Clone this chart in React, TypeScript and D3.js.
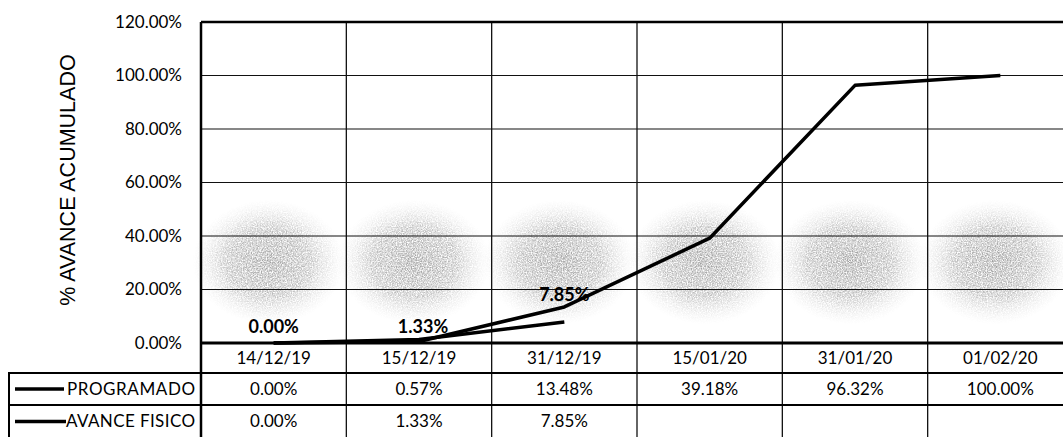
import React, { useEffect, useRef } from 'react';
import * as d3 from 'd3';

const categories = ['14/12/19', '15/12/19', '31/12/19', '15/01/20', '31/01/20', '01/02/20'];
const programado = [0, 0.0057, 0.1348, 0.3918, 0.9632, 1.0];
const avanceFisico = [0, 0.0133, 0.0785];
const programadoLabels = ['0.00%', '0.57%', '13.48%', '39.18%', '96.32%', '100.00%'];
const avanceLabels = ['0.00%', '1.33%', '7.85%', '', '', ''];
const yTicks = [0, 0.2, 0.4, 0.6, 0.8, 1.0, 1.2];

const FONT = 'Lato, "Liberation Sans", sans-serif';

const App = () => {
  const svgRef = useRef<SVGSVGElement>(null);

  useEffect(() => {
    const svg = d3.select(svgRef.current);
    svg.selectAll('*').remove();

    const left = 201, right = 1073, top = 22, bottom = 343;
    const rowH = [30, 32, 33];
    const xScale = d3.scaleBand<string>().domain(categories).range([left, right]).padding(0);
    const yScale = d3.scaleLinear().domain([0, 1.2]).range([bottom, top]);
    const cx = (i: number) => (xScale(categories[i]) as number) + xScale.bandwidth() / 2;

    svg.append('rect').attr('width', 1063).attr('height', 437).attr('fill', '#fff');

    // scanned watermark blobs behind the plot
    const defs = svg.append('defs');
    const grad = defs.append('radialGradient').attr('id', 'blob');
    grad.append('stop').attr('offset', '0%').attr('stop-color', '#8c8c8c').attr('stop-opacity', 0.85);
    grad.append('stop').attr('offset', '55%').attr('stop-color', '#a0a0a0').attr('stop-opacity', 0.7);
    grad.append('stop').attr('offset', '100%').attr('stop-color', '#cfcfcf').attr('stop-opacity', 0);
    const noise = defs.append('filter').attr('id', 'grain');
    noise.append('feTurbulence').attr('type', 'fractalNoise').attr('baseFrequency', 0.8).attr('numOctaves', 2).attr('result', 'n');
    noise.append('feColorMatrix').attr('in', 'n').attr('type', 'matrix')
      .attr('values', '0 0 0 0 0  0 0 0 0 0  0 0 0 0 0  0 0 0 -2.0 1.5').attr('result', 'a');
    noise.append('feComposite').attr('in', 'SourceGraphic').attr('in2', 'a').attr('operator', 'in');

    svg.append('g').attr('filter', 'url(#grain)')
      .selectAll('ellipse')
      .data(categories)
      .enter().append('ellipse')
      .attr('cx', (d, i) => cx(i) - 5)
      .attr('cy', 262)
      .attr('rx', 76)
      .attr('ry', 62)
      .attr('fill', 'url(#blob)');

    // gridlines
    svg.append('g').selectAll('line')
      .data(yTicks.slice(1))
      .enter().append('line')
      .attr('x1', left).attr('x2', right)
      .attr('y1', d => yScale(d)).attr('y2', d => yScale(d))
      .attr('stroke', '#111').attr('stroke-width', 1.2);

    const tableBottom = bottom + rowH[0] + rowH[1] + rowH[2];
    svg.append('g').selectAll('line')
      .data(categories.slice(1))
      .enter().append('line')
      .attr('x1', d => xScale(d) as number).attr('x2', d => xScale(d) as number)
      .attr('y1', top).attr('y2', tableBottom)
      .attr('stroke', '#111').attr('stroke-width', 1.3);

    // plot frame
    svg.append('line').attr('x1', left).attr('x2', right).attr('y1', top).attr('y2', top)
      .attr('stroke', '#000').attr('stroke-width', 2.5);
    svg.append('line').attr('x1', left).attr('x2', left).attr('y1', top).attr('y2', tableBottom)
      .attr('stroke', '#000').attr('stroke-width', 2.5);

    // y axis labels
    svg.append('g').selectAll('text')
      .data(yTicks)
      .enter().append('text')
      .attr('x', 182)
      .attr('y', d => yScale(d))
      .attr('dy', '0.35em')
      .attr('text-anchor', 'end')
      .style('font-family', FONT)
      .style('font-size', '17px')
      .text(d => d3.format('.2%')(d));

    svg.append('text')
      .attr('transform', 'rotate(-90)')
      .attr('x', -180)
      .attr('y', 75)
      .attr('text-anchor', 'middle')
      .style('font-family', 'Arial, "Liberation Sans", sans-serif')
      .style('font-size', '21.5px')
      .text('% AVANCE ACUMULADO');

    // lines
    const line = d3.line<number>().x((d, i) => cx(i)).y(d => yScale(d));
    svg.append('path').datum(programado).attr('d', line)
      .attr('fill', 'none').attr('stroke', '#000').attr('stroke-width', 3.5).attr('stroke-linejoin', 'round');
    svg.append('path').datum(avanceFisico).attr('d', line)
      .attr('fill', 'none').attr('stroke', '#000').attr('stroke-width', 3.5).attr('stroke-linejoin', 'round');

    // data labels (last one was nudged up in the original)
    const labelShift = [-10, -6, -21];
    svg.append('g').selectAll('text')
      .data(avanceFisico)
      .enter().append('text')
      .attr('x', (d, i) => cx(i) + (i === 1 ? 4 : 0))
      .attr('y', (d, i) => yScale(d) + labelShift[i])
      .attr('text-anchor', 'middle')
      .style('font-family', FONT)
      .style('font-weight', 'bold')
      .style('font-size', '18px')
      .text(d => d3.format('.2%')(d));

    // data table
    const rowY = [bottom, bottom + rowH[0], bottom + rowH[0] + rowH[1], tableBottom];
    svg.append('line').attr('x1', left).attr('x2', right).attr('y1', bottom).attr('y2', bottom)
      .attr('stroke', '#000').attr('stroke-width', 3);
    [rowY[1], rowY[2]].forEach(yy => {
      svg.append('line').attr('x1', 8).attr('x2', right).attr('y1', yy).attr('y2', yy)
        .attr('stroke', '#000').attr('stroke-width', 2.2);
    });
    svg.append('line').attr('x1', 9).attr('x2', 9).attr('y1', rowY[1]).attr('y2', tableBottom)
      .attr('stroke', '#000').attr('stroke-width', 2);

    const cells = svg.append('g')
      .style('font-family', FONT).style('font-size', '17px').attr('text-anchor', 'middle');
    cells.selectAll('.cat').data(categories).enter().append('text')
      .attr('x', (d, i) => cx(i)).attr('y', (rowY[0] + rowY[1]) / 2).attr('dy', '0.35em')
      .text(d => d);
    cells.selectAll('.prog').data(programadoLabels).enter().append('text')
      .attr('x', (d, i) => cx(i)).attr('y', (rowY[1] + rowY[2]) / 2).attr('dy', '0.35em')
      .text(d => d);
    cells.selectAll('.av').data(avanceLabels).enter().append('text')
      .attr('x', (d, i) => cx(i)).attr('y', (rowY[2] + rowY[3]) / 2).attr('dy', '0.35em')
      .text(d => d);

    // legend keys
    const legend = [
      { name: 'PROGRAMADO', x0: 15, x1: 64, y: (rowY[1] + rowY[2]) / 2 },
      { name: 'AVANCE FISICO', x0: 15, x1: 66, y: (rowY[2] + rowY[3]) / 2 },
    ];
    legend.forEach(l => {
      svg.append('line').attr('x1', l.x0).attr('x2', l.x1).attr('y1', l.y).attr('y2', l.y)
        .attr('stroke', '#000').attr('stroke-width', 3.5);
      svg.append('text').attr('x', 195).attr('y', l.y).attr('dy', '0.35em')
        .attr('text-anchor', 'end')
        .attr('textLength', l.name === 'PROGRAMADO' ? 128 : 129)
        .style('font-family', FONT).style('font-size', '17px')
        .text(l.name);
    });
  }, []);

  return (
    <svg ref={svgRef} width={1063} height={437} style={{ position: 'absolute', left: 0, top: 0 }}></svg>
  );
};

export default App;
